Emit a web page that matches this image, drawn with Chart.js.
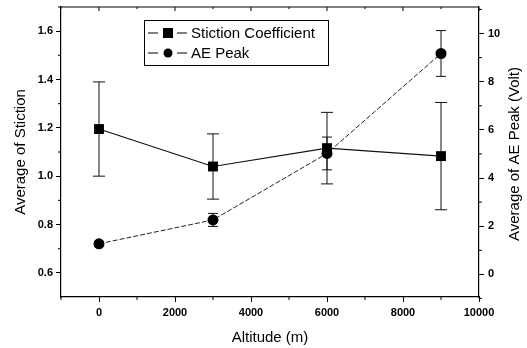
<!DOCTYPE html>
<html lang="en">
<head>
    <meta charset="UTF-8">
    <title>Stiction and AE Peak vs Altitude</title>
    <script src="https://cdn.jsdelivr.net/npm/chart.js"></script>
    <style>
        html, body { margin: 0; padding: 0; background: #fff; }
        .chart-box { width: 527px; height: 348px; }
    </style>
</head>
<body>
<div class="chart-box">
    <canvas id="stictionChart"></canvas>
</div>

<script>
    // data
    const altitudes = [0, 3000, 6000, 9000];
    const stiction = [1.195, 1.04, 1.116, 1.083];
    const stictionErr = [0.195, 0.135, 0.148, 0.222];
    const aePeak = [1.27, 2.26, 5.02, 9.17];
    const aePeakErr = [0.1, 0.27, 0.68, 0.95];

    const xTicks = [0, 2000, 4000, 6000, 8000, 10000];
    const leftTicks = [0.6, 0.8, 1.0, 1.2, 1.4, 1.6];
    const rightTicks = [0, 2, 4, 6, 8, 10];
    const rightTitle = 'Average of AE Peak (Volt)';

    const tickFont = { family: 'Arial, "Liberation Sans", sans-serif', size: 11, weight: 'bold' };
    const titleFont = { family: 'Arial, "Liberation Sans", sans-serif', size: 15 };

    function toPoints(ys) {
        return altitudes.map((x, i) => ({ x: x, y: ys[i] }));
    }

    // error bars, drawn through the scales
    const errorBars = {
        id: 'errorBars',
        beforeDatasetsDraw(chart) {
            const ctx = chart.ctx;
            const xs = chart.scales.x;
            const sets = [
                { vals: stiction, err: stictionErr, scale: chart.scales.y, cap: 6 },
                { vals: aePeak, err: aePeakErr, scale: chart.scales.y1, cap: 5 }
            ];
            ctx.save();
            ctx.strokeStyle = '#111';
            ctx.lineWidth = 1;
            sets.forEach(s => {
                altitudes.forEach((a, i) => {
                    const px = xs.getPixelForValue(a);
                    const top = s.scale.getPixelForValue(s.vals[i] + s.err[i]);
                    const bot = s.scale.getPixelForValue(s.vals[i] - s.err[i]);
                    ctx.beginPath();
                    ctx.moveTo(px, top); ctx.lineTo(px, bot);
                    ctx.moveTo(px - s.cap, top); ctx.lineTo(px + s.cap, top);
                    ctx.moveTo(px - s.cap, bot); ctx.lineTo(px + s.cap, bot);
                    ctx.stroke();
                });
            });
            ctx.restore();
        }
    };

    // top frame line, minor ticks, inward ticks on top, right title
    const frameTicks = {
        id: 'frameTicks',
        afterDraw(chart) {
            const ctx = chart.ctx;
            const a = chart.chartArea;
            const xs = chart.scales.x, yl = chart.scales.y, yr = chart.scales.y1;
            ctx.save();
            ctx.strokeStyle = '#000';
            ctx.lineWidth = 1.2;
            ctx.beginPath();
            ctx.moveTo(a.left, a.top); ctx.lineTo(a.right, a.top);
            ctx.stroke();
            ctx.lineWidth = 1;
            ctx.beginPath();
            for (let v = -1000; v <= 10000; v += 1000) {
                const px = xs.getPixelForValue(v);
                const major = v % 2000 === 0;
                if (!major) { ctx.moveTo(px, a.bottom); ctx.lineTo(px, a.bottom + 3); }
                ctx.moveTo(px, a.top); ctx.lineTo(px, a.top + (major ? 4 : 2));
            }
            for (let v = 0.7; v < 1.7; v += 0.2) {
                const py = yl.getPixelForValue(v);
                ctx.moveTo(a.left, py); ctx.lineTo(a.left - 3, py);
            }
            for (let v = -1; v <= 11; v += 2) {
                const py = yr.getPixelForValue(v);
                ctx.moveTo(a.right, py); ctx.lineTo(a.right + 3, py);
            }
            ctx.stroke();

            // right axis title reads bottom to top, like the left one
            ctx.translate(515, 154);
            ctx.rotate(-Math.PI / 2);
            ctx.font = '15px Arial, "Liberation Sans", sans-serif';
            ctx.fillStyle = '#000';
            ctx.textAlign = 'center';
            ctx.textBaseline = 'middle';
            ctx.fillText(rightTitle, 0, 0);
            ctx.restore();
        }
    };

    // boxed legend with line-marker-line symbols
    const boxLegend = {
        id: 'boxLegend',
        afterDraw(chart) {
            const ctx = chart.ctx;
            const bx = 144, by = 20, bw = 184, bh = 45;
            ctx.save();
            ctx.strokeStyle = '#000';
            ctx.lineWidth = 1;
            ctx.strokeRect(bx + 0.5, by + 0.5, bw, bh);
            const rows = [
                { label: chart.data.datasets[0].label, y: by + 13, shape: 'rect' },
                { label: chart.data.datasets[1].label, y: by + 33, shape: 'circle' }
            ];
            ctx.font = '15px Arial, "Liberation Sans", sans-serif';
            ctx.textBaseline = 'middle';
            ctx.fillStyle = '#000';
            rows.forEach(r => {
                ctx.beginPath();
                ctx.moveTo(148, r.y); ctx.lineTo(158, r.y);
                ctx.moveTo(177, r.y); ctx.lineTo(187, r.y);
                ctx.stroke();
                ctx.beginPath();
                if (r.shape === 'rect') {
                    ctx.rect(163, r.y - 5, 10, 10);
                } else {
                    ctx.arc(168, r.y, 4.5, 0, Math.PI * 2);
                }
                ctx.fill();
                ctx.fillText(r.label, 191, r.y + 1);
            });
            ctx.restore();
        }
    };

    const config = {
        type: 'line',
        data: {
            datasets: [{
                label: 'Stiction Coefficient',
                data: toPoints(stiction),
                yAxisID: 'y',
                borderColor: '#111',
                backgroundColor: '#000',
                borderWidth: 1.2,
                pointStyle: 'rect',
                pointRadius: 7,
                pointBorderWidth: 0,
                tension: 0
            }, {
                label: 'AE Peak',
                data: toPoints(aePeak),
                yAxisID: 'y1',
                borderColor: '#222',
                backgroundColor: '#000',
                borderWidth: 1,
                borderDash: [5, 2],
                pointStyle: 'circle',
                pointRadius: 5.5,
                pointBorderWidth: 0,
                tension: 0
            }]
        },
        options: {
            responsive: false,
            animation: false,
            layout: { padding: { top: 5, left: 0, right: 0, bottom: 0 } },
            plugins: {
                legend: { display: false },
                tooltip: { enabled: false }
            },
            scales: {
                x: {
                    type: 'linear',
                    min: -1000,
                    max: 10000,
                    afterBuildTicks: s => { s.ticks = xTicks.map(v => ({ value: v })); },
                    afterFit: s => { s.height = 51; s.paddingLeft = 0; s.paddingRight = 0; },
                    grid: { drawOnChartArea: false, tickLength: 5, color: '#000' },
                    border: { color: '#000', width: 1.2 },
                    ticks: { color: '#000', font: tickFont, padding: 4, maxRotation: 0, callback: v => String(v) },
                    title: { display: true, text: 'Altitude (m)', color: '#000', font: titleFont, padding: { top: 0, bottom: 1 } }
                },
                y: {
                    position: 'left',
                    min: 0.5,
                    max: 1.7,
                    afterBuildTicks: s => { s.ticks = leftTicks.map(v => ({ value: v })); },
                    afterFit: s => { s.width = 61; s.paddingTop = 0; s.paddingBottom = 0; },
                    grid: { drawOnChartArea: false, tickLength: 5, color: '#000' },
                    border: { color: '#000', width: 1.2 },
                    ticks: { color: '#000', font: tickFont, padding: 3, callback: v => v.toFixed(1) },
                    title: { display: true, text: 'Average of Stiction', color: '#000', font: titleFont, padding: { top: 12, bottom: 0 } }
                },
                y1: {
                    position: 'right',
                    min: -0.94,
                    max: 11.1,
                    afterBuildTicks: s => { s.ticks = rightTicks.map(v => ({ value: v })); },
                    afterFit: s => { s.width = 48; s.paddingTop = 0; s.paddingBottom = 0; },
                    grid: { drawOnChartArea: false, tickLength: 5, color: '#000' },
                    border: { color: '#000', width: 1.2 },
                    ticks: { color: '#000', font: tickFont, padding: 4, callback: v => String(v) },
                    title: { display: false }
                }
            }
        },
        plugins: [errorBars, frameTicks, boxLegend]
    };

    const canvas = document.getElementById('stictionChart');
    canvas.width = 527;
    canvas.height = 348;
    const stictionChart = new Chart(canvas, config);
</script>
</body>
</html>
